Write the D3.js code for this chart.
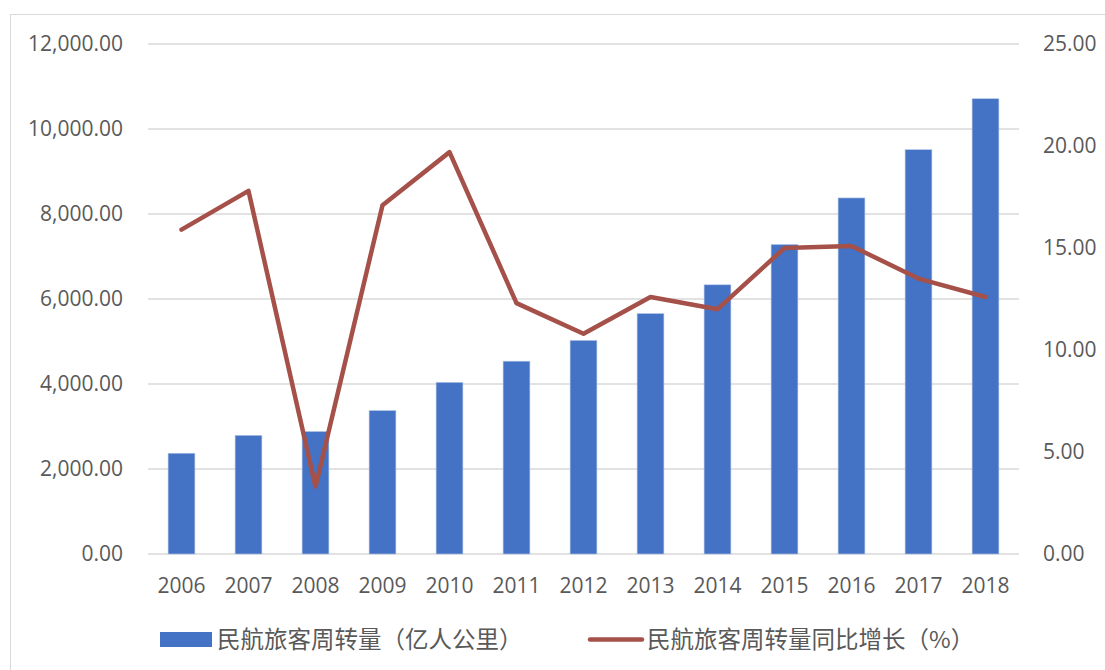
<!DOCTYPE html>
<html><head><meta charset="utf-8">
<script src="https://cdn.jsdelivr.net/npm/d3@7"></script>
<style>body{margin:0;background:#fff;}svg{display:block;font-family:"Noto Sans CJK SC","Open Sans",sans-serif;}</style>
</head><body><svg id="c" width="1105" height="670"></svg>
<script>
const years = ["2006","2007","2008","2009","2010","2011","2012","2013","2014","2015","2016","2017","2018"];
const volume = [2370.7,2791.7,2882.8,3375.2,4039.0,4537.0,5025.7,5656.8,6334.2,7282.6,8378.1,9513.0,10712.3];
const growth = [15.9,17.8,3.3,17.1,19.7,12.3,10.8,12.6,12.0,15.0,15.1,13.5,12.6];
const leftTicks = [0,2000,4000,6000,8000,10000,12000];
const rightTicks = [0,5,10,15,20,25];
const barName = "民航旅客周转量（亿人公里）";
const lineName = "民航旅客周转量同比增长（%）";

const svg = d3.select("#c");
const L = 148, R = 1019, T = 44, B = 554;
svg.append("rect").attr("x",10.5).attr("y",14.5).attr("width",1110).attr("height",670).attr("fill","none").attr("stroke","#d9d9d9");
const x = d3.scaleBand().domain(years).range([L,R]).paddingInner(0.6).paddingOuter(0.3);
const yL = d3.scaleLinear().domain([0,12000]).range([B,T]);
const yR = d3.scaleLinear().domain([0,25]).range([B,T]);
const fmt = d3.format(",.2f");

svg.append("g").selectAll("line").data(leftTicks).join("line")
  .attr("x1",L).attr("x2",R).attr("y1",d=>yL(d)).attr("y2",d=>yL(d)).attr("stroke","#d9d9d9").attr("stroke-width",1.3);

const gl = svg.append("g").attr("transform",`translate(${L-22},0)`).call(d3.axisLeft(yL).tickValues(leftTicks).tickFormat(fmt).tickSize(0));
const gr = svg.append("g").attr("transform",`translate(${R+21},0)`).call(d3.axisRight(yR).tickValues(rightTicks).tickFormat(d3.format(".2f")).tickSize(0));
const gx = svg.append("g").attr("transform",`translate(0,${B+21})`).call(d3.axisBottom(x).tickSize(0));
[gl,gr,gx].forEach(g=>{g.select(".domain").remove();g.selectAll("text").attr("fill","#595959").style("font-size","21px").style("font-family","'Open Sans','Noto Sans',sans-serif");});

svg.append("g").selectAll("rect").data(years).join("rect")
  .attr("x",d=>x(d)).attr("width",x.bandwidth())
  .attr("y",(d,i)=>yL(volume[i])).attr("height",(d,i)=>B-yL(volume[i]))
  .attr("fill","#4472c4").attr("stroke","#b4c7e7").attr("stroke-width",0.6);

const line = d3.line().x((d,i)=>x(years[i])+x.bandwidth()/2).y(d=>yR(d));
svg.append("path").datum(growth).attr("d",line).attr("fill","none").attr("stroke","#a5514a").attr("stroke-width",4.5).attr("stroke-linejoin","round").attr("stroke-linecap","round");

const lg = svg.append("g");
lg.append("rect").attr("x",160).attr("y",632).attr("width",52).attr("height",15).attr("fill","#4472c4");
lg.append("text").attr("x",217).attr("y",648).text(barName).attr("fill","#595959").style("font-size","23.5px");
lg.append("line").attr("x1",590).attr("x2",642).attr("y1",639.5).attr("y2",639.5).attr("stroke","#a5514a").attr("stroke-width",4.5).attr("stroke-linecap","round");
lg.append("text").attr("x",647).attr("y",648).text(lineName).attr("fill","#595959").style("font-size","23.5px");
</script></body></html>
